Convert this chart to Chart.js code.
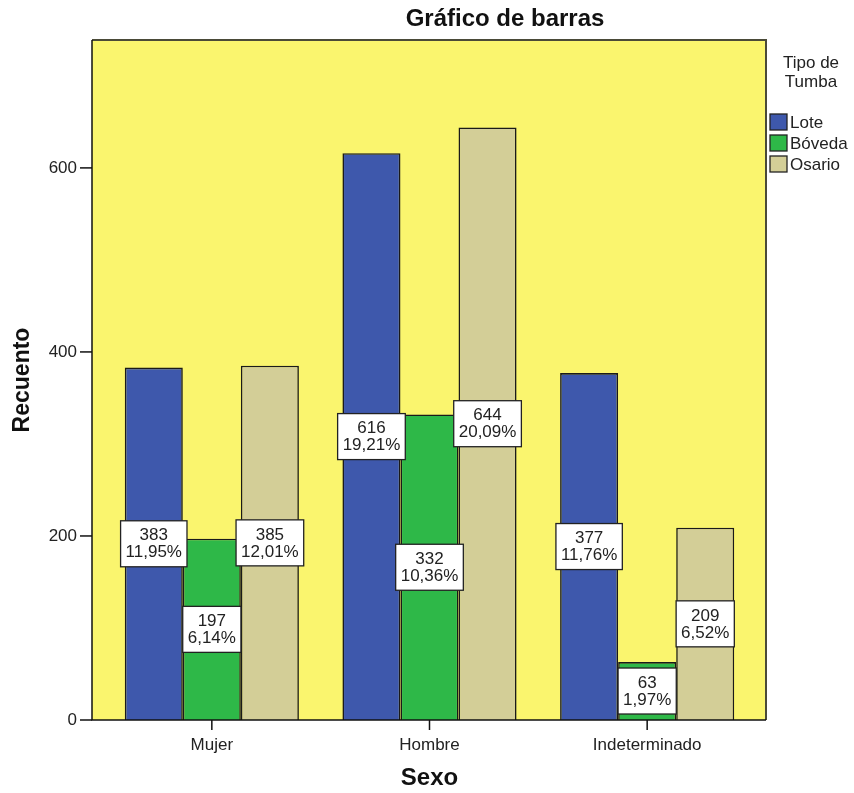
<!DOCTYPE html>
<html>
<head>
<meta charset="utf-8">
<script src="https://cdn.jsdelivr.net/npm/chart.js@4.4.1/dist/chart.umd.min.js"></script>
<style>
  html, body { margin: 0; background: #fff; }
  canvas { display: block; }
</style>
</head>
<body>
<canvas id="chart" width="854" height="793"></canvas>
<script>
// --- data ---
const categories = ['Mujer', 'Hombre', 'Indeterminado'];
const seriesNames = ['Lote', 'Bóveda', 'Osario'];
const lote = [383, 616, 377];
const boveda = [197, 332, 63];
const osario = [385, 644, 209];
const lotePct = [11.95, 19.21, 11.76];
const bovedaPct = [6.14, 10.36, 1.97];
const osarioPct = [12.01, 20.09, 6.52];
const yTicks = [0, 200, 400, 600];
const yMax = 739;

const FONT = '"Liberation Sans", Arial, sans-serif';
const colors = ['#3E58AC', '#2EB848', '#D3CE97'];
const plotFill = '#FAF56E';
const padL = 11, padR = 10; // yellow frame sticks out past the category band

function fmtPct(p) {
    return p.toFixed(2).replace('.', ',') + '%';
}

// yellow plot background
const plotBg = {
    id: 'plotBg',
    beforeDatasetsDraw(chart) {
        const a = chart.chartArea, ctx = chart.ctx;
        ctx.save();
        ctx.fillStyle = plotFill;
        ctx.fillRect(a.left - padL, a.top, a.width + padL + padR, a.height);
        ctx.restore();
    }
};

// frame, tick marks, value boxes, legend, title
const decorations = {
    id: 'decorations',
    afterDatasetsDraw(chart) {
        const a = chart.chartArea, ctx = chart.ctx;
        const L = a.left - padL, R = a.right + padR;
        ctx.save();

        // frame
        ctx.strokeStyle = '#4a4a38';
        ctx.lineWidth = 2;
        ctx.beginPath();
        ctx.moveTo(L, a.top); ctx.lineTo(R, a.top); ctx.lineTo(R, a.bottom);
        ctx.stroke();
        ctx.strokeStyle = '#111';
        ctx.lineWidth = 1.5;
        ctx.beginPath();
        ctx.moveTo(L, a.top); ctx.lineTo(L, a.bottom); ctx.lineTo(R, a.bottom);
        ctx.stroke();

        // tick marks
        ctx.lineWidth = 1.5;
        yTicks.forEach(v => {
            const y = chart.scales.y.getPixelForValue(v);
            ctx.beginPath(); ctx.moveTo(L - 12, y); ctx.lineTo(L, y); ctx.stroke();
        });
        categories.forEach((c, i) => {
            const x = chart.scales.x.getPixelForValue(i);
            ctx.beginPath(); ctx.moveTo(x, a.bottom); ctx.lineTo(x, a.bottom + 10); ctx.stroke();
        });

        // value boxes in the middle of every bar
        ctx.font = '17px ' + FONT;
        ctx.textAlign = 'center';
        ctx.textBaseline = 'middle';
        chart.data.datasets.forEach((ds, di) => {
            chart.getDatasetMeta(di).data.forEach((bar, i) => {
                const l1 = String(ds.data[i]);
                const l2 = fmtPct(ds.pct[i]);
                const w = Math.max(ctx.measureText(l1).width, ctx.measureText(l2).width) + 10;
                const h = 46;
                const cx = bar.x, cy = (bar.y + bar.base) / 2;
                ctx.fillStyle = '#fff';
                ctx.fillRect(cx - w / 2, cy - h / 2, w, h);
                ctx.strokeStyle = '#222';
                ctx.lineWidth = 1.3;
                ctx.strokeRect(cx - w / 2, cy - h / 2, w, h);
                ctx.fillStyle = '#222';
                ctx.fillText(l1, cx, cy - 8);
                ctx.fillText(l2, cx, cy + 9);
            });
        });

        // legend
        ctx.fillStyle = '#222';
        ctx.font = '17px ' + FONT;
        ctx.textAlign = 'center';
        ctx.fillText('Tipo de', 811, 63);
        ctx.fillText('Tumba', 811, 82);
        ctx.textAlign = 'left';
        chart.data.datasets.forEach((ds, di) => {
            const y = 122 + di * 21;
            ctx.fillStyle = ds.backgroundColor;
            ctx.fillRect(770, y - 8, 17, 16);
            ctx.strokeStyle = '#222';
            ctx.lineWidth = 1.3;
            ctx.strokeRect(770, y - 8, 17, 16);
            ctx.fillStyle = '#222';
            ctx.fillText(ds.label, 790, y + 1);
        });

        // title
        ctx.font = 'bold 24px ' + FONT;
        ctx.textAlign = 'center';
        ctx.fillStyle = '#111';
        ctx.fillText('Gráfico de barras', 505, 19);
        ctx.restore();
    }
};

const seriesData = [lote, boveda, osario];
const seriesPct = [lotePct, bovedaPct, osarioPct];

new Chart(document.getElementById('chart'), {
    type: 'bar',
    data: {
        labels: categories,
        datasets: seriesNames.map((name, i) => ({
            label: name,
            data: seriesData[i],
            pct: seriesPct[i],
            backgroundColor: colors[i],
            borderColor: '#1a1a1a',
            borderWidth: 1.6,
            categoryPercentage: 0.8,
            barPercentage: 1.0
        }))
    },
    options: {
        responsive: false,
        animation: false,
        layout: { padding: { left: 9, top: 40, right: 98, bottom: 0 } },
        plugins: {
            legend: { display: false },
            tooltip: { enabled: false }
        },
        scales: {
            x: {
                grid: { display: false, drawTicks: false },
                border: { display: false },
                ticks: { font: { family: FONT, size: 17 }, color: '#222', padding: 15 },
                title: { display: true, text: 'Sexo', color: '#111', padding: 0,
                         font: { family: FONT, size: 24, weight: 'bold' } },
                afterFit: s => { s.height = 73; }
            },
            y: {
                min: 0,
                max: yMax,
                grid: { display: false, drawTicks: false },
                border: { display: false },
                ticks: { font: { family: FONT, size: 17 }, color: '#222', padding: 26 },
                title: { display: true, text: 'Recuento', color: '#111', padding: 0,
                         font: { family: FONT, size: 23, weight: 'bold' } },
                afterBuildTicks: s => { s.ticks = yTicks.map(v => ({ value: v })); },
                afterFit: s => { s.width = 94; }
            }
        }
    },
    plugins: [plotBg, decorations]
});
</script>
</body>
</html>
